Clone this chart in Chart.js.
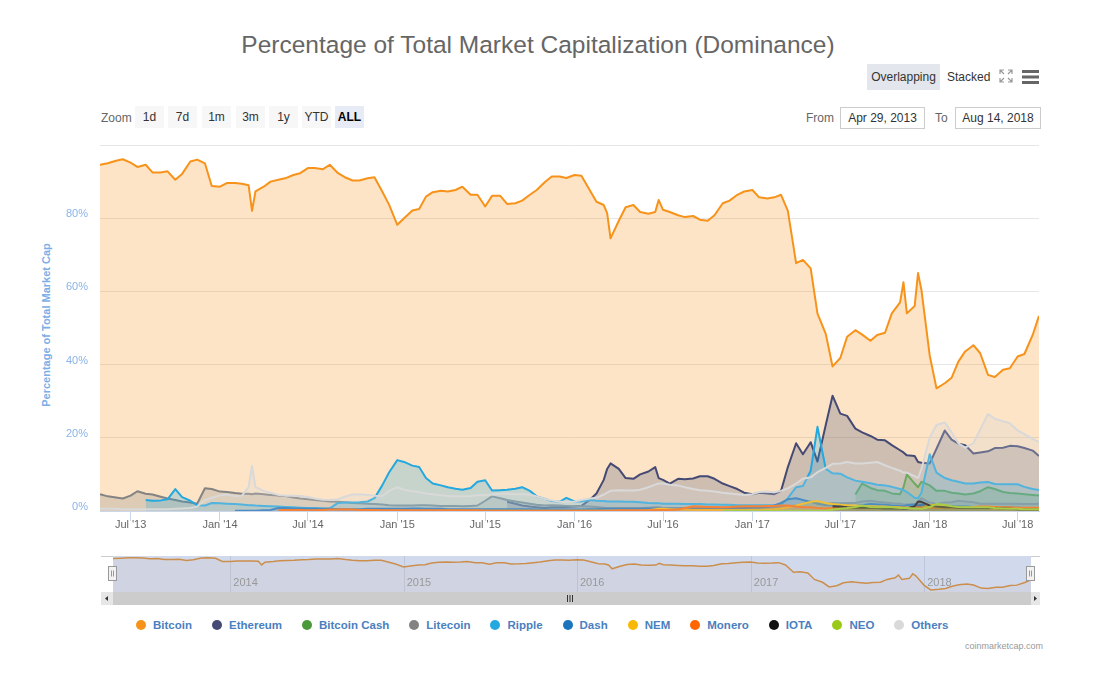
<!DOCTYPE html>
<html>
<head>
<meta charset="utf-8">
<title>Percentage of Total Market Capitalization (Dominance)</title>
<script src="https://cdn.jsdelivr.net/npm/chart.js@4.4.1/dist/chart.umd.min.js"></script>
<style>
  html, body { margin: 0; padding: 0; background: #fff; }
  body { width: 1116px; height: 687px; position: relative; overflow: hidden;
         font-family: "Liberation Sans", Arial, sans-serif; }
  .abs { position: absolute; }
  #title { left: 0; width: 1076px; top: 32px; text-align: center; font-size: 24.5px; line-height: 26px; color: #666; }
  .btn { position: absolute; height: 22px; line-height: 22px; width: 29px; text-align: center;
         font-size: 12px; color: #333; background: #f7f7f7; top: 106px; }
  .btn.sel { background: #e6ebf5; font-weight: bold; color: #000; }
  .lbl { position: absolute; font-size: 12px; color: #666; }
  .inp { position: absolute; top: 107px; height: 22px; line-height: 20px; border: 1px solid #ccc;
         font-size: 12px; color: #333; text-align: center; box-sizing: border-box; }
  #ytitle { left: -104px; top: 319px; width: 300px; text-align: center; font-size: 11px; font-weight: bold;
            color: #79aee6; transform: rotate(-90deg); }
  #legend { left: 136px; top: 619px; display: flex; align-items: center; }
  .item { display: flex; align-items: center; margin-right: 20px; font-size: 11.5px; font-weight: bold; color: #4a80c0; }
  .dot { width: 10px; height: 10px; border-radius: 50%; margin-right: 7px; }
  #credit { left: 965px; top: 641px; font-size: 9px; color: #999; }
</style>
</head>
<body>
<div id="title" class="abs">Percentage of Total Market Capitalization (Dominance)</div>

<div class="abs" style="left:867px;top:64px;width:73px;height:26px;line-height:26px;background:#e3e6ec;font-size:12px;color:#333;text-align:center;">Overlapping</div>
<div class="abs" style="left:947px;top:64px;height:26px;line-height:26px;font-size:12px;color:#333;">Stacked</div>
<svg class="abs" style="left:999px;top:69px" width="14" height="14">
  <g stroke="#999" stroke-width="1.2" fill="none">
    <path d="M1 5 L1 1 L5 1 M1 1 L5 5"/>
    <path d="M9 1 L13 1 L13 5 M13 1 L9 5"/>
    <path d="M1 9 L1 13 L5 13 M1 13 L5 9"/>
    <path d="M13 9 L13 13 L9 13 M13 13 L9 9"/>
  </g>
</svg>
<svg class="abs" style="left:1022px;top:70px" width="17" height="14">
  <rect x="0" y="0" width="17" height="3" fill="#666"/>
  <rect x="0" y="5.5" width="17" height="3" fill="#666"/>
  <rect x="0" y="11" width="17" height="3" fill="#666"/>
</svg>

<div class="lbl" style="left:101px;top:111px;">Zoom</div>
<div id="zoombtns"></div>
<div class="lbl" style="left:806px;top:111px;">From</div>
<div class="inp" style="left:840px;width:85px;">Apr 29, 2013</div>
<div class="lbl" style="left:935px;top:111px;">To</div>
<div class="inp" style="left:955px;width:86px;">Aug 14, 2018</div>

<div id="ytitle" class="abs">Percentage of Total Market Cap</div>

<canvas id="main" class="abs" style="left:0;top:135px" width="1116" height="400"></canvas>
<canvas id="nav" class="abs" style="left:101px;top:556px" width="939" height="36"></canvas>

<!-- scrollbar -->
<div class="abs" style="left:101px;top:592px;width:939px;height:13px;background:#f2f2f2;"></div>
<div class="abs" style="left:113px;top:592px;width:918px;height:13px;background:#cccccc;"></div>
<div class="abs" style="left:101px;top:592px;width:12px;height:13px;background:#e6e6e6;"></div>
<div class="abs" style="left:1031px;top:592px;width:9px;height:13px;background:#e6e6e6;"></div>
<svg class="abs" style="left:101px;top:592px" width="12" height="13"><path d="M7 4 L4 6.5 L7 9 Z" fill="#333"/></svg>
<svg class="abs" style="left:1031px;top:592px" width="9" height="13"><path d="M3 4 L6 6.5 L3 9 Z" fill="#333"/></svg>
<svg class="abs" style="left:566px;top:595px" width="8" height="7">
  <path d="M1.5 0 V7 M4 0 V7 M6.5 0 V7" stroke="#333" stroke-width="1"/>
</svg>

<div id="legend" class="abs"></div>
<div id="credit" class="abs">coinmarketcap.com</div>

<script>
// sample dates (twice a month, plus a few spikes)
const dates = [
  '2013-04-29','2013-05-15','2013-06-01','2013-06-15','2013-07-01','2013-07-15','2013-08-01','2013-08-15',
  '2013-09-01','2013-09-15','2013-10-01','2013-10-15','2013-11-01','2013-11-15','2013-12-01','2013-12-15',
  '2014-01-01','2014-01-15','2014-02-01','2014-02-15','2014-03-01','2014-03-08','2014-03-15','2014-04-01','2014-04-15',
  '2014-05-01','2014-05-15','2014-06-01','2014-06-15','2014-07-01','2014-07-15','2014-08-01','2014-08-15',
  '2014-09-01','2014-09-15','2014-10-01','2014-10-15','2014-11-01','2014-11-15','2014-12-01','2014-12-15',
  '2015-01-01','2015-01-15','2015-02-01','2015-02-15','2015-03-01','2015-03-15','2015-04-01','2015-04-15',
  '2015-05-01','2015-05-15','2015-06-01','2015-06-15','2015-07-01','2015-07-15','2015-08-01','2015-08-15',
  '2015-09-01','2015-09-15','2015-10-01','2015-10-15','2015-11-01','2015-11-15','2015-12-01','2015-12-15',
  '2016-01-01','2016-01-15','2016-02-01','2016-02-15','2016-03-01','2016-03-08','2016-03-15','2016-04-01','2016-04-15',
  '2016-05-01','2016-05-15','2016-06-01','2016-06-15','2016-06-22','2016-07-01','2016-07-15','2016-08-01','2016-08-15',
  '2016-09-01','2016-09-15','2016-10-01','2016-10-15','2016-11-01','2016-11-15','2016-12-01','2016-12-15',
  '2017-01-01','2017-01-15','2017-02-01','2017-02-15','2017-03-01','2017-03-15','2017-04-01','2017-04-15',
  '2017-05-01','2017-05-15','2017-06-01','2017-06-15','2017-07-01','2017-07-15','2017-08-01','2017-08-15',
  '2017-09-01','2017-09-15','2017-10-01','2017-10-15','2017-11-01','2017-11-08','2017-11-15','2017-12-01','2017-12-08','2017-12-15',
  '2018-01-01','2018-01-15','2018-02-01','2018-02-15','2018-03-01','2018-03-15','2018-04-01','2018-04-15',
  '2018-05-01','2018-05-15','2018-06-01','2018-06-15','2018-07-01','2018-07-15','2018-08-01','2018-08-14'
];

const tickDates = ['2013-07-01','2014-01-01','2014-07-01','2015-01-01','2015-07-01','2016-01-01',
                   '2016-07-01','2017-01-01','2017-07-01','2018-01-01','2018-07-01'];
const navYears = ['2014','2015','2016','2017','2018'];
const monthNames = ['Jan','Feb','Mar','Apr','May','Jun','Jul','Aug','Sep','Oct','Nov','Dec'];

// % of total market cap, one row per year
const bitcoin = [
  94.6, 95.0, 95.7, 96.1, 95.2, 94.0, 94.6, 92.5, 92.5, 92.8, 90.5, 92.1, 95.5, 96.0, 95.0, 88.8,
  88.6, 89.6, 89.6, 89.4, 89.0, 82.0, 87.3, 88.6, 90.0, 90.5, 90.9, 91.8, 92.3, 93.7, 93.7, 93.4, 94.6, 92.3, 91.2, 90.3, 90.3, 90.9, 91.2, 87.3, 83.7,
  78.2, 80.0, 82.1, 82.5, 85.9, 87.1, 87.5, 87.3, 87.7, 88.6, 86.4, 86.4, 83.2, 86.1, 86.1, 83.9, 84.1, 84.8, 86.4, 87.7, 89.9, 91.4, 91.4, 91.0,
  91.8, 91.6, 87.7, 84.5, 83.6, 81.4, 74.5, 79.3, 83.0, 83.6, 81.7, 81.2, 81.7, 85.0, 82.3, 81.7, 80.8, 80.3, 80.6, 79.6, 79.3, 80.8, 84.1, 84.8, 86.4, 87.3,
  87.7, 85.7, 85.4, 85.7, 86.4, 82.0, 67.7, 68.6, 66.3, 53.9, 48.4, 39.5, 41.8, 47.6, 49.4, 48.2, 46.5, 48.1, 48.7, 54.0, 57.0, 62.5, 54.0, 56.0, 65.0, 60.4,
  42.5, 33.5, 34.9, 36.4, 40.8, 43.6, 45.3, 43.1, 37.2, 36.6, 38.6, 39.0, 42.2, 42.9, 48.1, 53.3
];
const ethereum = [ // from 2015-08-15
  2.5, 2.0, 1.5, 1.2, 1.0, 0.8, 1.0, 1.0, 1.1,
  1.2, 1.4, 3.0, 4.8, 8.5, 11.5, 13.0, 11.5, 9.0, 8.8, 10.0, 10.8, 12.0, 9.0, 8.5, 7.5, 8.8, 8.7, 8.9, 9.5, 9.5, 8.8, 7.5, 6.8, 6.0, 5.0,
  4.6, 5.0, 4.8, 4.6, 5.5, 12.0, 18.5, 15.5, 18.8, 13.5, 23.5, 31.5, 26.6, 26.0, 22.5, 21.5, 20.5, 19.5, 19.3, 18.0, 16.6, 16.0, 15.2, 15.0, 13.4, 13.2,
  13.0, 17.0, 22.0, 19.5, 18.4, 18.0, 15.7, 16.0, 16.3, 17.2, 17.3, 17.8, 17.7, 17.2, 16.5, 15.0
];
const bitcoinCash = [ // from 2017-08-01
  4.5, 7.5, 6.3, 5.7, 5.5, 4.8, 4.6, 6.5, 10.0, 7.5, 6.5, 8.0,
  7.0, 5.5, 5.5, 5.0, 4.8, 4.5, 4.8, 5.4, 6.5, 6.0, 5.2, 4.9, 4.8, 4.6, 4.4, 4.2
];
const litecoin = [
  4.6, 4.0, 3.7, 3.4, 4.2, 5.4, 4.7, 4.5, 3.9, 3.4, 3.0, 2.6, 2.3, 2.0, 6.2, 6.0,
  5.3, 5.2, 4.9, 4.7, 4.7, 4.6, 4.8, 4.6, 4.4, 4.2, 4.1, 3.7, 3.4, 3.2, 3.0, 2.8, 2.6, 2.5, 2.4, 2.2, 2.1, 2.0, 1.9, 1.8, 1.6,
  1.5, 1.5, 1.5, 1.6, 1.6, 1.5, 1.4, 1.4, 1.4, 1.3, 1.4, 1.5, 2.8, 4.0, 3.5, 3.0, 2.6, 2.3, 2.0, 1.7, 1.5, 1.6, 1.5, 1.4,
  1.3, 1.3, 1.2, 1.1, 0.9, 0.8, 0.8, 0.8, 0.8, 0.8, 0.8, 0.9, 1.0, 1.0, 0.9, 0.8, 0.8, 0.8, 0.8, 0.8, 0.8, 0.8, 0.8, 0.7, 0.7, 0.7,
  0.8, 0.8, 0.9, 1.0, 1.2, 1.3, 1.5, 2.0, 2.6, 2.3, 2.0, 2.2, 2.1, 2.2, 2.2, 2.6, 2.8, 2.5, 2.3, 2.1, 2.0, 1.8, 1.8, 1.9, 2.5, 3.5,
  2.3, 1.9, 2.3, 2.4, 2.8, 2.6, 2.4, 2.0, 2.0, 2.0, 2.0, 2.0, 2.0, 1.9, 1.9, 2.0
];
const ripple = [ // from 2013-08-01
  3.0, 2.8, 2.9, 3.2, 6.0, 3.8, 2.8, 1.6, 1.5, 2.2,
  2.1, 2.0, 1.9, 1.8, 1.6, 1.6, 1.5, 1.4, 1.3, 1.2, 1.1, 1.0, 0.9, 0.8, 0.8, 0.7, 0.7, 2.2, 2.3, 2.3, 2.4, 2.6, 3.5, 7.0, 10.5,
  13.9, 13.4, 12.4, 12.0, 9.0, 7.5, 7.0, 6.5, 6.1, 5.8, 6.3, 8.0, 8.4, 5.6, 5.7, 5.8, 6.1, 6.5, 5.5, 4.0, 3.3, 2.7, 2.5, 3.6,
  2.6, 2.6, 3.0, 2.8, 2.7, 2.6, 2.6, 2.6, 2.5, 2.5, 2.4, 2.2, 2.1, 2.1, 2.0, 2.0, 2.0, 1.9, 1.9, 1.9, 1.8, 1.8, 1.7, 1.7, 1.6, 1.6,
  1.6, 1.6, 1.6, 1.6, 1.7, 3.5, 6.5, 6.8, 11.0, 23.0, 11.5, 10.3, 10.2, 9.2, 8.3, 8.0, 7.6, 7.2, 7.0, 6.6, 6.0, 5.7, 5.2, 3.6, 3.5, 5.0,
  15.5, 10.5, 9.0, 8.4, 8.0, 7.5, 7.5, 7.8, 7.9, 7.4, 7.3, 7.3, 7.3, 6.6, 6.0, 5.7
];
const dash = [ // from 2014-02-01
  0.1, 0.1, 0.1, 0.1, 0.1, 0.2, 0.3, 0.8, 0.8, 0.7, 0.7, 0.6, 0.6, 0.6, 0.6, 0.5, 0.5, 0.5, 0.5, 0.6, 0.6, 0.6, 0.6,
  0.6, 0.6, 0.7, 0.7, 0.6, 0.6, 0.6, 0.5, 0.5, 0.5, 0.5, 0.5, 0.5, 0.5, 0.5, 0.5, 0.5, 0.5, 0.5, 0.4, 0.4, 0.4, 0.4, 0.4,
  0.4, 0.4, 0.5, 0.5, 0.6, 0.6, 0.6, 0.6, 0.6, 0.6, 0.6, 0.7, 0.7, 0.7, 0.6, 0.6, 0.6, 0.6, 0.6, 0.6, 0.6, 0.6, 0.7, 0.8, 0.8, 0.8,
  1.0, 1.0, 1.1, 1.5, 2.2, 3.2, 3.5, 3.0, 2.5, 2.0, 1.6, 1.5, 1.6, 1.6, 1.4, 1.6, 1.9, 1.8, 1.7, 1.5, 1.4, 1.3, 1.6, 1.8, 1.5, 1.7,
  1.4, 1.4, 1.4, 1.3, 1.2, 1.2, 1.1, 1.1, 1.1, 1.0, 1.0, 1.0, 0.9, 0.8, 0.8, 0.8
];
const nem = [ // from 2015-04-01
  0.1, 0.1, 0.1, 0.1, 0.1, 0.1, 0.1, 0.1, 0.1, 0.1, 0.1, 0.1, 0.1, 0.1, 0.1, 0.1, 0.1, 0.1,
  0.1, 0.1, 0.1, 0.1, 0.1, 0.1, 0.1, 0.1, 0.1, 0.1, 0.1, 0.2, 0.5, 0.6, 0.6, 0.5, 0.4, 0.4, 0.3, 0.3, 0.3, 0.3, 0.3, 0.3, 0.3, 0.3,
  0.3, 0.3, 0.4, 0.5, 0.7, 1.0, 1.5, 2.0, 2.5, 2.7, 2.2, 1.9, 1.7, 1.6, 1.5, 1.4, 1.3, 1.2, 1.2, 1.1, 1.0, 0.9, 0.9, 0.8, 0.8, 0.9,
  1.7, 1.6, 1.3, 1.1, 1.0, 0.9, 0.8, 0.8, 0.8, 0.7, 0.6, 0.6, 0.5, 0.5, 0.4, 0.4
];
const monero = [ // from 2014-05-01
  0.2, 0.3, 0.3, 0.3, 0.2, 0.2, 0.3, 0.4, 0.4, 0.5, 0.4, 0.3, 0.3, 0.3, 0.2, 0.2,
  0.2, 0.2, 0.2, 0.2, 0.2, 0.2, 0.2, 0.2, 0.2, 0.2, 0.2, 0.2, 0.1, 0.1, 0.1, 0.1, 0.1, 0.1, 0.1, 0.1, 0.1, 0.1, 0.1, 0.1,
  0.1, 0.1, 0.1, 0.1, 0.1, 0.1, 0.1, 0.2, 0.2, 0.2, 0.2, 0.2, 0.3, 0.3, 0.3, 0.3, 0.4, 0.8, 1.3, 1.2, 1.1, 1.1, 1.0, 1.1, 1.2, 1.3,
  1.3, 1.3, 1.4, 1.4, 1.5, 1.5, 1.2, 1.0, 1.0, 0.8, 0.7, 0.8, 0.8, 0.9, 0.9, 0.9, 1.0, 0.9, 0.9, 0.9, 0.9, 0.9, 0.9, 1.0, 1.0, 0.9,
  0.9, 0.9, 0.9, 0.9, 0.9, 0.9, 1.1, 1.2, 1.2, 1.1, 1.0, 1.0, 0.9, 0.9, 0.9, 0.9
];
const iota = [ // from 2017-06-15
  1.3, 1.2, 1.0, 0.9, 0.9, 0.9, 0.8, 0.7, 0.7, 0.7, 0.6, 0.7, 1.3, 2.6, 2.5,
  1.5, 1.2, 1.0, 1.0, 0.9, 0.8, 0.8, 0.8, 0.8, 0.8, 0.7, 0.6, 0.5, 0.4, 0.4, 0.4
];
const neo = [ // from 2016-11-01
  0.1, 0.1, 0.1, 0.1,
  0.1, 0.1, 0.1, 0.1, 0.1, 0.1, 0.1, 0.1, 0.1, 0.1, 0.1, 0.4, 0.6, 0.8, 1.1, 1.5, 1.1, 1.0, 1.0, 1.0, 0.8, 0.8, 0.8, 0.7, 0.7, 0.6,
  1.1, 1.9, 1.7, 1.3, 1.1, 1.0, 1.0, 1.0, 1.0, 0.8, 0.7, 0.6, 0.6, 0.5, 0.5, 0.5
];
const others = [
  0.6, 0.6, 0.6, 0.5, 0.5, 0.5, 0.5, 0.5, 0.5, 0.5, 0.6, 0.7, 0.8, 1.2, 3.0, 3.6,
  4.3, 4.5, 4.0, 4.2, 6.5, 12.3, 6.5, 5.5, 5.0, 4.4, 4.2, 4.2, 4.1, 3.8, 3.4, 3.1, 3.0, 3.2, 3.9, 4.5, 4.6, 4.4, 4.2, 4.1, 5.5,
  6.5, 5.8, 5.4, 5.2, 4.8, 4.6, 4.3, 4.1, 4.0, 4.0, 4.1, 4.3, 4.4, 4.5, 4.7, 4.7, 4.6, 4.6, 4.5, 4.0, 3.3, 2.9, 2.5, 2.5,
  2.6, 3.0, 3.4, 3.6, 4.5, 5.0, 5.5, 5.7, 5.6, 5.6, 5.8, 6.5, 7.2, 7.5, 7.5, 7.2, 7.0, 6.5, 6.0, 5.7, 5.5, 5.3, 5.0, 4.8, 4.6, 4.4,
  4.6, 5.2, 5.3, 5.1, 5.5, 6.2, 7.5, 8.8, 9.2, 10.6, 11.8, 12.9, 13.0, 13.4, 13.0, 13.0, 13.2, 13.4, 12.5, 11.8, 11.0, 10.5, 10.5, 9.5, 9.0, 11.5,
  20.0, 23.5, 24.2, 21.5, 18.5, 17.3, 18.5, 22.3, 26.5, 25.2, 24.5, 24.0, 22.0, 21.0, 19.7, 18.8
];

const seriesNames  = ['Bitcoin','Ethereum','Bitcoin Cash','Litecoin','Ripple','Dash','NEM','Monero','IOTA','NEO','Others'];
const seriesColors = ['#f7931a','#454a75','#4a9a3a','#838383','#23a8e0','#1c75bc','#f8b904','#ff6600','#111111','#9ac918','#d9d9d9'];
const seriesValues = [bitcoin, ethereum, bitcoinCash, litecoin, ripple, dash, nem, monero, iota, neo, others];
const seriesStart  = ['2013-04-29','2015-08-15','2017-08-01','2013-04-29','2013-08-01','2014-02-01',
                      '2015-04-01','2014-05-01','2017-06-15','2016-11-01','2013-04-29'];

// === helpers ===
const t0 = Date.UTC(2013, 3, 29);
function dayOf(s) {
  const [y, m, d] = s.split('-').map(Number);
  return (Date.UTC(y, m - 1, d) - t0) / 864e5;
}
function rgba(hex, a) {
  const n = parseInt(hex.slice(1), 16);
  return `rgba(${n >> 16},${(n >> 8) & 255},${n & 255},${a})`;
}
function points(values, from) {
  const start = dates.indexOf(from);
  return values.map((v, i) => ({ x: dayOf(dates[start + i]), y: v }));
}
const lastDay = dayOf(dates[dates.length - 1]);

// === zoom buttons ===
const zoomLabels = ['1d','7d','1m','3m','1y','YTD','ALL'];
const zoomLeft = [135, 168, 202, 236, 269, 302, 335];
const zb = document.getElementById('zoombtns');
zoomLabels.forEach((t, i) => {
  const b = document.createElement('div');
  b.className = 'btn' + (t === 'ALL' ? ' sel' : '');
  b.style.left = zoomLeft[i] + 'px';
  b.textContent = t;
  zb.appendChild(b);
});

// === legend ===
const legend = document.getElementById('legend');
seriesNames.forEach((name, i) => {
  const it = document.createElement('div');
  it.className = 'item';
  it.innerHTML = `<span class="dot" style="background:${seriesColors[i]}"></span>${name}`;
  legend.appendChild(it);
});

Chart.defaults.font.family = '"Liberation Sans", Arial, sans-serif';
Chart.defaults.animation = false;

// === main chart ===
const n = seriesNames.length;
new Chart(document.getElementById('main'), {
  type: 'line',
  data: {
    datasets: seriesNames.map((name, i) => ({
      label: name,
      data: points(seriesValues[i], seriesStart[i]),
      borderColor: seriesColors[i],
      backgroundColor: rgba(seriesColors[i], 0.25),
      borderWidth: 2,
      pointRadius: 0,
      pointHoverRadius: 0,
      tension: 0,
      fill: 'origin',
      borderJoinStyle: 'round',
      order: n - 1 - i
    }))
  },
  options: {
    responsive: false,
    events: [],
    layout: { autoPadding: false, padding: { left: 0, right: 77, top: 10, bottom: 0 } },
    plugins: {
      legend: { display: false },
      tooltip: { enabled: false },
      filler: { drawTime: 'beforeDatasetDraw' }
    },
    scales: {
      x: {
        type: 'linear',
        min: 0,
        max: lastDay,
        afterBuildTicks: s => { s.ticks = tickDates.map(d => ({ value: dayOf(d) })); },
        afterFit: s => { s.height = 24; s.paddingLeft = 0; s.paddingRight = 0; },
        ticks: {
          autoSkip: false, maxRotation: 0, color: '#666', font: { size: 11 }, padding: -3,
          callback: v => {
            const d = new Date(t0 + v * 864e5);
            return monthNames[d.getUTCMonth()] + " '" + String(d.getUTCFullYear()).slice(2);
          }
        },
        grid: { drawOnChartArea: false, drawTicks: true, tickLength: 10, color: '#ccd6eb' },
        border: { color: '#ccd6eb', width: 1 }
      },
      y: {
        min: 0,
        max: 100,
        afterFit: s => { s.width = 100; s.paddingTop = 0; s.paddingBottom = 0; },
        ticks: {
          stepSize: 20, color: '#8ab4e8', font: { size: 11 }, padding: 12, labelOffset: -4,
          callback: v => (v === 100 ? '' : v + '%')
        },
        grid: { color: '#e6e6e6', drawTicks: false },
        border: { display: false }
      }
    }
  }
});

// === navigator ===
const navPlugin = {
  id: 'navDecor',
  beforeDatasetsDraw(chart) {
    const { ctx, chartArea: a, scales } = chart;
    ctx.save();
    ctx.strokeStyle = '#e6e6e6';
    ctx.lineWidth = 1;
    navYears.forEach(y => {
      const x = Math.round(scales.x.getPixelForValue(dayOf(y + '-01-01'))) + 0.5;
      ctx.beginPath(); ctx.moveTo(x, a.top); ctx.lineTo(x, a.bottom); ctx.stroke();
    });
    ctx.restore();
  },
  afterDatasetsDraw(chart) {
    const { ctx, chartArea: a, scales, width } = chart;
    ctx.save();
    ctx.fillStyle = 'rgba(102,133,194,0.3)';
    ctx.fillRect(a.left, a.top, a.right - a.left, a.bottom - a.top);
    ctx.fillStyle = '#999';
    ctx.font = '11px "Liberation Sans", Arial, sans-serif';
    ctx.textBaseline = 'middle';
    navYears.forEach(y => {
      const x = scales.x.getPixelForValue(dayOf(y + '-01-01'));
      ctx.fillText(y, x + 3, 27);
    });
    // outline
    ctx.strokeStyle = '#cccccc';
    ctx.beginPath();
    ctx.moveTo(0, 0.5); ctx.lineTo(a.left, 0.5);
    ctx.moveTo(a.right, 0.5); ctx.lineTo(width, 0.5);
    ctx.stroke();
    // handles
    [a.left, a.right].forEach(x => {
      const hx = Math.round(x) - 4.5, hy = 10.5;
      ctx.fillStyle = '#f2f2f2';
      ctx.strokeStyle = '#999';
      ctx.fillRect(hx, hy, 8, 14);
      ctx.strokeRect(hx, hy, 8, 14);
      ctx.beginPath();
      ctx.moveTo(hx + 3, hy + 4); ctx.lineTo(hx + 3, hy + 10);
      ctx.moveTo(hx + 5, hy + 4); ctx.lineTo(hx + 5, hy + 10);
      ctx.stroke();
    });
    ctx.restore();
  }
};

new Chart(document.getElementById('nav'), {
  type: 'line',
  data: {
    datasets: [{
      data: points(bitcoin, seriesStart[0]),
      borderColor: seriesColors[0],
      backgroundColor: rgba(seriesColors[0], 0.07),
      borderWidth: 1.5,
      pointRadius: 0,
      tension: 0,
      fill: 'start'
    }]
  },
  options: {
    responsive: false,
    events: [],
    layout: { autoPadding: false, padding: { left: 12, right: 9, top: 0, bottom: 0 } },
    plugins: { legend: { display: false }, tooltip: { enabled: false } },
    scales: {
      x: { type: 'linear', min: 0, max: lastDay, display: false },
      y: { min: 29.6, max: 99.3, display: false }
    }
  },
  plugins: [navPlugin]
});
</script>
</body>
</html>
